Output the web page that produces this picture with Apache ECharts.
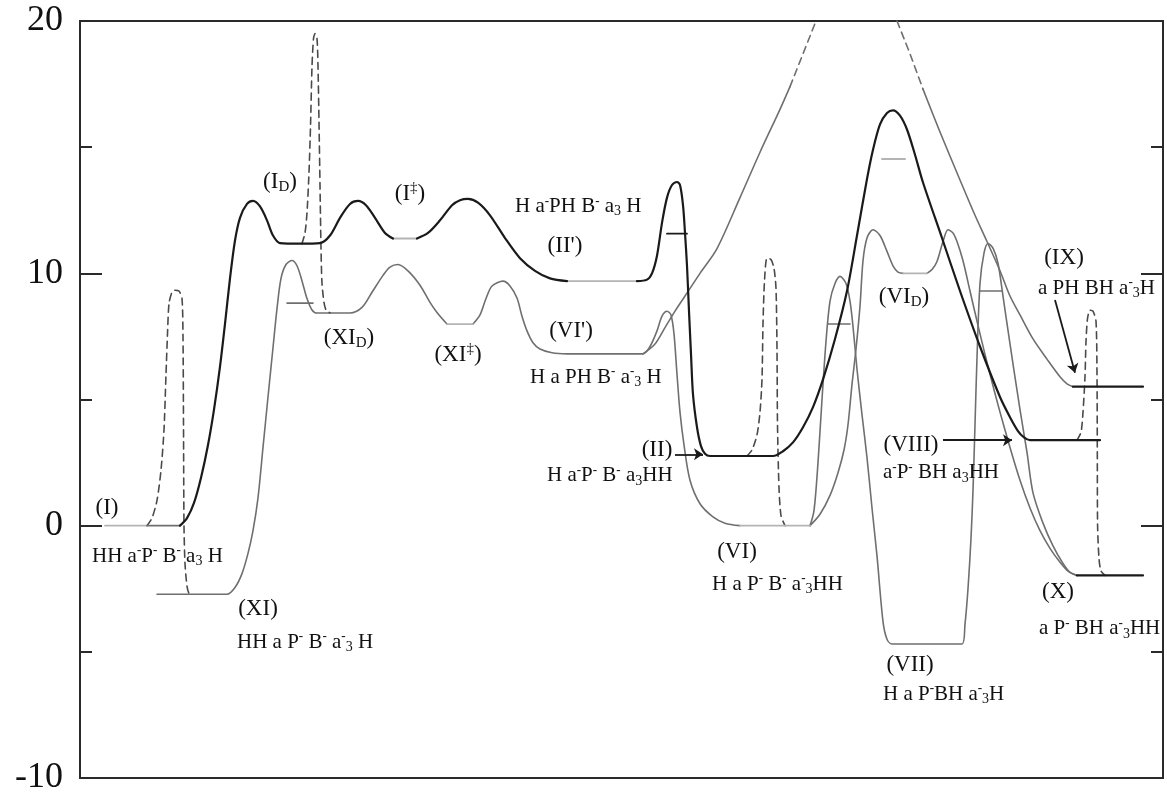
<!DOCTYPE html>
<html><head><meta charset="utf-8">
<script src="https://cdn.jsdelivr.net/npm/echarts@6/dist/echarts.min.js"></script>
<style>html,body{margin:0;padding:0;background:#fff}#c{width:1167px;height:796px}</style>
</head><body><div id="c"></div>
<script>
// ---- axis ----
const yTickLabels = [-10, 0, 10, 20];
const xRange = [80, 1163];           // reaction coordinate (arb. units)

// ---- black path: I -> I_D -> I‡ -> II' -> II -> (VI_D top) -> VIII ----
const blackA1 = [[180,0],[187,0.3],[194,0.9],[201,1.9],[208,3.2],[214,4.6],[220,6.3],[225,8.0],[230,9.8],[235,11.3],[240,12.2],[247,12.75],[253,12.87],[260,12.65],[267,12.1],[273,11.5],[280,11.2],[300,11.18],[320,11.2],[330,11.5],[340,12.2],[350,12.75],[358,12.87],[366,12.7],[375,12.2],[385,11.6],[393,11.38]];
const blackA2 = [[417,11.38],[428,11.6],[440,12.1],[452,12.7],[460,12.9],[468,12.95],[478,12.8],[490,12.3],[505,11.4],[520,10.6],[535,10.1],[550,9.8],[567,9.69]];
const blackA3 = [[637,9.69],[647,9.75],[652,10.0],[657,10.7],[662,12.0],[667,13.0],[672,13.5],[677,13.62],[680,13.5],[683,12.7],[685,11.6],[687,10.3],[689,8.5],[691,6.8],[693,5.2],[697,3.9],[701,3.15],[705,2.85],[710,2.76],[740,2.76],[773,2.76],[783,2.95],[793,3.3],[803,3.9],[813,4.7],[823,5.8],[835,7.4],[847,9.3],[857,11.5],[867,13.74],[873,14.9],[880,15.9],[887,16.35],[893,16.46],[900,16.25],[907,15.7],[915,14.7],[923,13.6],[942,11.4],[960,9.3],[980,7.1],[1000,5.1],[1010,4.3],[1018,3.75],[1024,3.5],[1030,3.39],[1065,3.39],[1100,3.39]];

// ---- gray paths ----
const grayC1 = [[157,-2.72],[190,-2.72],[227,-2.72],[235,-2.45],[242,-1.9],[248,-1.1],[253,-0.2],[258,1.1],[263,3.1],[268,5.1],[273,7.05],[277,8.6],[281,9.8],[286,10.35],[292,10.51],[297,10.3],[302,9.7],[307,9.0],[312,8.55],[317,8.43],[333,8.43],[350,8.43],[362,8.65],[372,9.25],[383,9.92],[390,10.25],[398,10.35],[408,10.1],[420,9.53],[430,8.85],[437,8.45],[447,7.99]];
const grayC2 = [[473,7.99],[480,8.35],[486,9.0],[492,9.5],[503,9.69],[510,9.5],[517,9.02],[522,8.3],[527,7.72],[533,7.25],[540,7.0],[552,6.85],[567,6.81],[605,6.81],[643,6.81],[650,7.1],[657,7.72],[662,8.3],[667,8.5],[671,8.35],[674,7.6],[677,6.0],[680,4.5],[684,3.2],[690,1.8],[700,0.87],[713,0.35],[725,0.1],[740,0]];
const grayB1 = [[643,6.81],[655,7.2],[665,7.85],[675,8.5],[685,9.1],[700,10.0],[717,10.98],[740,13.0],[760,14.8],[780,16.5],[790,17.4]];
const grayB1dash = [[790,17.4],[800,18.4],[816,20]];
const grayB2dash = [[897,20],[910,18.7],[923,17.3]];
const grayB2 = [[923,17.3],[940,15.6],[960,13.7],[975,12.3],[987,11.26],[1000,10.1],[1010,9.1],[1020,8.35],[1033,7.4],[1047,6.6],[1060,5.9],[1067,5.62],[1073,5.51]];
const grayE = [[810,0],[814,0.6],[818,2.5],[822,5.0],[826,7.3],[830,8.9],[835,9.6],[840,9.88],[846,9.6],[850,8.9],[853,7.9],[857,6.2],[862,4.4],[867,2.7],[872,0.7],[877,-1.2],[883,-3.8],[887,-4.5],[892,-4.69],[927,-4.69],[962,-4.69],[965,-3.9],[968,-2.5],[971,-0.5],[973,1.4],[975,4.0],[977,6.65],[980,9.6],[984,10.8],[988,11.18],[993,11.0],[998,10.4],[1003,9.1],[1010,7.2],[1020,4.6],[1027,2.9],[1033,1.3],[1043,0.1],[1053,-0.8],[1063,-1.5],[1070,-1.85],[1077,-1.97]];
const grayF1 = [[810,0],[820,0.45],[830,1.2],[838,2.1],[844,3.0],[848,4.0],[852,5.6],[856,7.0],[860,8.7],[863,10.5],[867,11.4],[873,11.73],[880,11.5],[887,10.87],[893,10.3],[898,10.05],[903,10.0]];
const grayF2 = [[927,10.0],[932,10.15],[937,10.47],[943,11.26],[948,11.73],[953,11.6],[957,11.26],[963,10.5],[970,9.3],[980,7.6],[990,6.0],[1000,4.5],[1010,3.1],[1020,1.8],[1030,0.7],[1040,-0.2],[1050,-0.9],[1060,-1.45],[1068,-1.8],[1077,-1.97]];

// ---- dashed (vertical) transitions ----
const dashD1 = [[147,0],[152,0.3],[157,1.0],[161,2.2],[164,3.8],[166,6.0],[167.5,7.6],[169,8.8],[172,9.25],[175,9.33],[179,9.3],[182,9.0],[183,7.5],[183.5,4.0],[184,0],[185,-1.5],[187,-2.4],[189,-2.68],[193,-2.72]];
const dashD2 = [[302,11.18],[305,11.6],[307,12.4],[309,14.0],[310.5,15.8],[312,18.2],[313.5,19.3],[315,19.5],[317,19.3],[318,18.2],[319,16.0],[320,13.5],[321,11.0],[322,9.6],[324,8.85],[326,8.55],[330,8.43]];
const dashD3 = [[747,2.76],[752,3.0],[757,3.6],[760,4.5],[762,5.8],[763,8.0],[764.5,9.7],[767,10.6],[771,10.55],[774,10.2],[776,9.4],[777,7.0],[777.5,4.0],[779,1.5],[781,0.4],[785,0]];
const dashD4 = [[1077,3.39],[1081,3.7],[1083,4.5],[1085,5.9],[1086,7.3],[1087.5,8.2],[1090,8.54],[1093,8.5],[1096,8.1],[1097,6.0],[1097.3,3.0],[1097.6,0],[1099,-1.3],[1101,-1.8],[1105,-1.97]];

// ---- level lines ----
const lightLevels = [
  [[105,0],[147,0]], [[393,11.38],[417,11.38]], [[567,9.69],[637,9.69]],
  [[447,7.99],[473,7.99]], [[740,0],[810,0]], [[903,10.0],[927,10.0]]
];
const grayLevels = [[[147,0],[180,0]]];
const blackLevels = [[[1073,5.51],[1143,5.51]], [[1077,-1.97],[1143,-1.97]]];
const grayBars = [[[287,8.82],[313,8.82]], [[828,7.99],[850,7.99]], [[980,9.3],[1002,9.3]]];
const lightBars = [[[882,14.53],[905,14.53]]];
const blackBars = [[[667,11.57],[687,11.57]]];

// ---- arrows ----
const arrows = [
  [[675,2.83],[703,2.83]],
  [[943,3.39],[1012,3.39]],
  [[1055,8.94],[1075,6.06]]
];

// ---- labels ----
const stateLabels = [
  [107,0.71,'(I)'], [258,-3.31,'(XI)'], [280,13.62,'(I{b2|D})'], [349,7.44,'(XI{b2|D})'],
  [410,13.15,'(I{s2|‡})'], [565,11.10,"(II')"], [458,6.77,'(XI{s2|‡})'], [571,7.72,"(VI')"],
  [657,2.99,'(II)'], [737,-1.06,'(VI)'], [904,9.06,'(VI{b2|D})'], [911,3.19,'(VIII)'],
  [910,-5.51,'(VII)'], [1064,10.59,'(IX)'], [1058,-2.64,'(X)']
];
const formulaLabels = [
  [92,-1.22,'HH a{s|-}P{s|-} B{s|-} a{b|3} H'],
  [237,-4.61,'HH a P{s|-} B{s|-} a{s|-}{b|3} H'],
  [515,12.64,'H a{s|-}PH B{s|-} a{b|3} H'],
  [530,5.87,'H a PH B{s|-} a{s|-}{b|3} H'],
  [547,1.97,'H a{s|-}P{s|-} B{s|-} a{b|3}HH'],
  [712,-2.32,'H a P{s|-} B{s|-} a{s|-}{b|3}HH'],
  [883,2.09,'a{s|-}P{s|-} BH a{b|3}HH'],
  [883,-6.69,'H a P{s|-}BH a{s|-}{b|3}H'],
  [1038,9.41,'a PH BH a{s|-}{b|3}H'],
  [1039,-4.09,'a P{s|-} BH a{s|-}{b|3}HH']
];

// ---- build ----
const SERIF = 'Liberation Serif';
const BLACK = '#1a1a1a', GRAY = '#6f6f6f', LIGHT = '#b4b4b4', DASH = '#4a4a4a', TEXT = '#111';
const series = [];
function addLine(data, color, width, opts) {
  opts = opts || {};
  series.push({
    type: 'line', data: data, symbol: 'none', showSymbol: false, silent: true,
    smooth: opts.smooth === undefined ? 0.3 : opts.smooth,
    lineStyle: { color: color, width: width, type: opts.dash ? [7, 5] : 'solid', cap: 'round', join: 'round' },
    z: opts.z || 2, clip: true
  });
}
[grayC1, grayC2, grayB1, grayB2, grayE, grayF1, grayF2].forEach(d => addLine(d, GRAY, 1.6));
[grayB1dash, grayB2dash].forEach(d => addLine(d, GRAY, 1.6, { dash: true, smooth: false }));
[dashD1, dashD2, dashD3, dashD4].forEach(d => addLine(d, DASH, 1.6, { dash: true, smooth: 0.25 }));
[blackA1, blackA2, blackA3].forEach(d => addLine(d, BLACK, 2.2, { z: 3 }));
lightLevels.forEach(d => addLine(d, LIGHT, 1.8, { smooth: false }));
grayLevels.forEach(d => addLine(d, GRAY, 1.6, { smooth: false }));
blackLevels.forEach(d => addLine(d, BLACK, 2.2, { smooth: false, z: 3 }));
grayBars.forEach(d => addLine(d, GRAY, 1.6, { smooth: false }));
lightBars.forEach(d => addLine(d, LIGHT, 2, { smooth: false }));
blackBars.forEach(d => addLine(d, BLACK, 1.8, { smooth: false, z: 3 }));

series.push({
  type: 'lines', coordinateSystem: 'cartesian2d', silent: true, z: 4,
  symbol: ['none', 'arrow'], symbolSize: [0, 9],
  itemStyle: { color: BLACK },
  lineStyle: { color: BLACK, width: 1.8, curveness: 0, opacity: 1 },
  data: arrows.map(a => ({ coords: a }))
});

const richBase = {
  s: { fontFamily: SERIF, fontSize: 13, lineHeight: 10, verticalAlign: 'top', color: TEXT, fontWeight: 'bold' },
  b: { fontFamily: SERIF, fontSize: 14, lineHeight: 8, verticalAlign: 'bottom', color: TEXT },
  s2: { fontFamily: SERIF, fontSize: 15, lineHeight: 10, verticalAlign: 'top', color: TEXT },
  b2: { fontFamily: SERIF, fontSize: 15, lineHeight: 8, verticalAlign: 'bottom', color: TEXT }
};
series.push({
  type: 'scatter', symbolSize: 0, silent: true, z: 5,
  itemStyle: { opacity: 1 },
  data: stateLabels.map(l => ({ value: [l[0], l[1]], label: { formatter: l[2] } })),
  label: { show: true, position: 'inside', opacity: 1, fontFamily: SERIF, fontSize: 23, lineHeight: 26, color: TEXT, rich: richBase }
});
series.push({
  type: 'scatter', symbolSize: 0, silent: true, z: 5,
  itemStyle: { opacity: 1 },
  data: formulaLabels.map(l => ({ value: [l[0], l[1]], label: { formatter: l[2] } })),
  label: { show: true, position: 'right', distance: 0, opacity: 1, fontFamily: SERIF, fontSize: 21, lineHeight: 24, color: TEXT, rich: richBase }
});

const yTickCommon = {
  type: 'value', min: yTickLabels[0], max: yTickLabels[yTickLabels.length - 1], interval: 10,
  splitLine: { show: false },
  axisLine: { show: false },
  axisTick: { show: true, inside: true, length: 22, lineStyle: { color: '#2a2a2a', width: 2 } },
  minorTick: { show: true, splitNumber: 2, length: 12, lineStyle: { color: '#2a2a2a', width: 2 } }
};
const chart = echarts.init(document.getElementById('c'));
chart.setOption({
  animation: false,
  backgroundColor: '#fff',
  grid: { left: 80, right: 4, top: 21, bottom: 13, show: true, borderColor: '#2a2a2a', borderWidth: 2, backgroundColor: 'transparent' },
  xAxis: { type: 'value', min: xRange[0], max: xRange[1], show: false },
  yAxis: [
    Object.assign({}, yTickCommon, {
      position: 'left',
      axisLabel: { show: true, fontFamily: SERIF, fontSize: 36, color: TEXT, margin: 17,
        formatter: v => yTickLabels.indexOf(v) >= 0 ? String(v) : '' }
    }),
    Object.assign({}, yTickCommon, { position: 'right', axisLabel: { show: false } })
  ],
  series: series
});
</script></body></html>
